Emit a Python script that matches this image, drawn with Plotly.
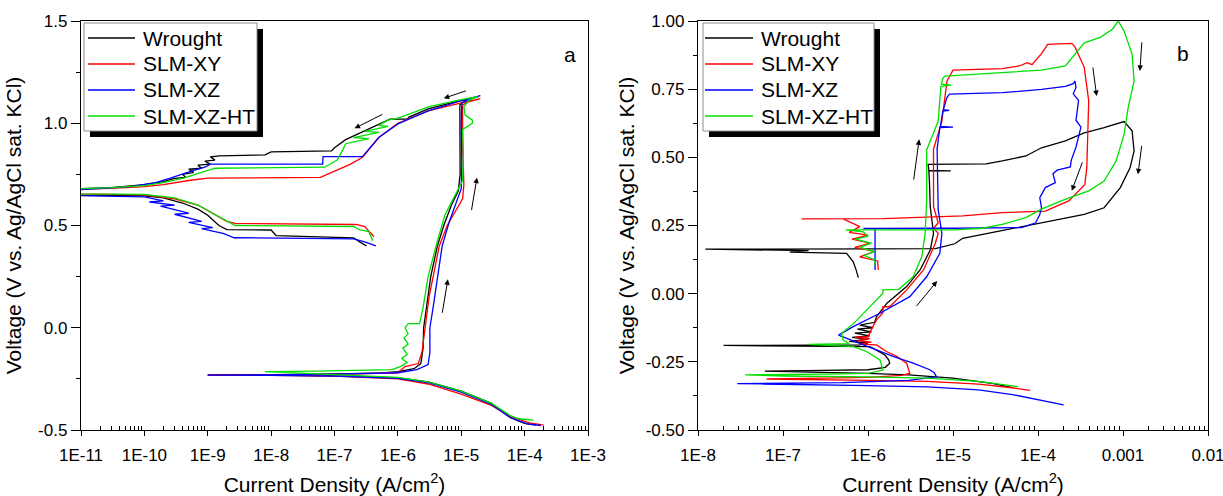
import math
import plotly.graph_objects as go

# ---------------- tick labels ----------------
a_xtick_vals = [1e-11, 1e-10, 1e-9, 1e-8, 1e-7, 1e-6, 1e-5, 1e-4, 1e-3]
a_xtick_text = ["1E-11", "1E-10", "1E-9", "1E-8", "1E-7", "1E-6", "1E-5", "1E-4", "1E-3"]
a_ytick_vals = [-0.5, 0.0, 0.5, 1.0, 1.5]
a_ytick_text = ["-0.5", "0.0", "0.5", "1.0", "1.5"]
b_xtick_vals = [1e-8, 1e-7, 1e-6, 1e-5, 1e-4, 1e-3, 1e-2]
b_xtick_text = ["1E-8", "1E-7", "1E-6", "1E-5", "1E-4", "0.001", "0.01"]
b_ytick_vals = [-0.5, -0.25, 0.0, 0.25, 0.5, 0.75, 1.0]
b_ytick_text = ["-0.50", "-0.25", "0.00", "0.25", "0.50", "0.75", "1.00"]

series_names = ["Wrought", "SLM-XY", "SLM-XZ", "SLM-XZ-HT"]
series_colors = ["#000000", "#FF0000", "#0000FF", "#00E000"]

# ---------------- panel a : (current density A/cm2, voltage V) ----------------
a_wrought = [
    (1.5e-4, -0.476), (1.0e-4, -0.468), (6e-5, -0.44), (3e-5, -0.37), (1e-5, -0.31), (3e-6, -0.265),
    (1e-6, -0.245), (1e-7, -0.235), (1e-8, -0.232), (1e-9, -0.231),
    (1e-8, -0.229), (1e-7, -0.226), (5e-7, -0.222), (1e-6, -0.215), (1.8e-6, -0.200), (2.3e-6, -0.175),
    (2.5e-6, -0.10), (2.55e-6, 0.0), (2.9e-6, 0.12), (3.3e-6, 0.25), (4.2e-6, 0.40), (5.3e-6, 0.50),
    (7e-6, 0.60), (9e-6, 0.67), (9.6e-6, 0.75), (9.4e-6, 0.95), (9.5e-6, 1.09), (1.2e-5, 1.115), (1.85e-5, 1.13),
    (8e-6, 1.105), (3e-6, 1.07), (1.5e-6, 1.03), (1.4e-6, 1.02), (7.5e-7, 1.02), (4e-7, 0.98), (2.5e-7, 0.95),
    (1.5e-7, 0.92), (1e-7, 0.88), (9e-8, 0.865), (1e-8, 0.86), (8e-9, 0.845), (1.5e-9, 0.84),
    (1.1e-9, 0.835), (1.3e-9, 0.82), (9e-10, 0.815), (1.1e-9, 0.80), (7e-10, 0.795), (8e-10, 0.78),
    (5e-10, 0.775), (6e-10, 0.76), (4e-10, 0.75), (4.5e-10, 0.735), (3e-10, 0.73), (2e-10, 0.715),
    (1e-10, 0.70), (3e-11, 0.685), (1e-11, 0.68), (3e-12, 0.663),
    (1e-11, 0.648), (1e-10, 0.645), (2e-10, 0.635), (4e-10, 0.61), (7e-10, 0.58), (1e-9, 0.55),
    (1.5e-9, 0.50), (2e-9, 0.48), (1e-8, 0.478), (1.2e-8, 0.45), (2e-7, 0.44), (2.5e-7, 0.42), (3.2e-7, 0.40),
]
a_xy = [
    (2e-4, -0.476), (1.2e-4, -0.465), (6e-5, -0.435), (3e-5, -0.38), (1e-5, -0.325), (3e-6, -0.275),
    (1e-6, -0.25), (1e-7, -0.237), (1e-8, -0.233), (1e-9, -0.232),
    (1e-8, -0.230), (1e-7, -0.228), (1e-6, -0.22), (1.3e-6, -0.19), (1.6e-6, -0.185), (2.1e-6, -0.175),
    (2.4e-6, -0.12), (2.7e-6, 0.0), (3.1e-6, 0.15), (3.6e-6, 0.25), (4.5e-6, 0.40), (6e-6, 0.50),
    (8e-6, 0.57), (1.05e-5, 0.63), (1.1e-5, 0.70), (1.05e-5, 0.90), (1.05e-5, 1.09), (1.3e-5, 1.105), (2e-5, 1.12),
    (1e-5, 1.10), (3e-6, 1.06), (1e-6, 1.0), (5e-7, 0.93), (2.8e-7, 0.835), (1.8e-7, 0.80), (1.1e-7, 0.77),
    (6e-8, 0.735), (1e-9, 0.732), (5e-10, 0.72), (2e-10, 0.70), (1e-10, 0.69), (3e-11, 0.682), (1e-11, 0.678),
    (3e-12, 0.665),
    (1e-11, 0.655), (1e-10, 0.65), (3e-10, 0.63), (7e-10, 0.60), (1.2e-9, 0.56), (2e-9, 0.52), (2.7e-9, 0.51),
    (2.2e-7, 0.505), (3e-7, 0.495), (3.5e-7, 0.47), (4.2e-7, 0.445),
]
a_xz = [
    (1.8e-4, -0.478), (1.1e-4, -0.47), (6e-5, -0.44), (3e-5, -0.375), (1e-5, -0.315), (3e-6, -0.268),
    (1e-6, -0.247), (1e-7, -0.236), (1e-8, -0.233), (1e-9, -0.232),
    (1e-8, -0.230), (1e-7, -0.227), (1e-6, -0.22), (2e-6, -0.205), (3e-6, -0.18), (3.2e-6, -0.12),
    (3.2e-6, 0.0), (3.6e-6, 0.10), (4.3e-6, 0.25), (5e-6, 0.40), (6.5e-6, 0.52), (8e-6, 0.60), (1e-5, 0.68),
    (1.02e-5, 0.80), (1e-5, 1.0), (1.02e-5, 1.10), (1.4e-5, 1.12), (2e-5, 1.135),
    (1e-5, 1.11), (3e-6, 1.06), (1e-6, 0.997), (5e-7, 0.93), (2.76e-7, 0.837), (6.6e-8, 0.837), (6.5e-8, 0.80),
    (1.1e-9, 0.80), (9e-10, 0.785), (6e-10, 0.77), (4e-10, 0.75), (2.5e-10, 0.73), (1.5e-10, 0.71),
    (6e-11, 0.69), (1e-11, 0.676), (3e-12, 0.66),
    (1e-11, 0.646), (1e-10, 0.64), (2e-10, 0.62), (1.2e-10, 0.615), (3e-10, 0.60), (1.8e-10, 0.595),
    (5e-10, 0.56), (3e-10, 0.555), (8e-10, 0.52), (5e-10, 0.515), (1.2e-9, 0.49), (8e-10, 0.485),
    (1.8e-9, 0.46), (2.6e-9, 0.44), (2e-7, 0.435), (3e-7, 0.42), (4.5e-7, 0.40),
]
a_ht = [
    (1.38e-4, -0.452), (8e-5, -0.445), (6e-5, -0.43), (3e-5, -0.37), (1e-5, -0.31), (3e-6, -0.265),
    (1e-6, -0.243), (1e-7, -0.228), (8e-9, -0.215),
    (5e-8, -0.212), (3.6e-7, -0.208), (8e-7, -0.205), (1.1e-6, -0.19), (1.4e-6, -0.17), (1.15e-6, -0.15),
    (1.4e-6, -0.13), (1.2e-6, -0.10), (1.45e-6, -0.08), (1.25e-6, -0.05), (1.45e-6, -0.03), (1.3e-6, 0.0),
    (1.45e-6, 0.02), (2.2e-6, 0.02), (2.5e-6, 0.10), (3e-6, 0.25), (4e-6, 0.40), (5.5e-6, 0.55), (8e-6, 0.65),
    (1.05e-5, 0.72), (1.08e-5, 0.85), (1.05e-5, 0.97), (1.5e-5, 1.00), (1.5e-5, 1.015), (1.15e-5, 1.04),
    (1.1e-5, 1.08), (1.3e-5, 1.11), (1.8e-5, 1.13),
    (1e-5, 1.115), (3e-6, 1.08), (1.5e-6, 1.045), (1e-6, 1.025), (7e-7, 1.015), (5e-7, 0.99), (7e-7, 0.985),
    (3e-7, 0.96), (5e-7, 0.955), (2e-7, 0.93), (3.5e-7, 0.925), (1.5e-7, 0.90), (1.3e-7, 0.86), (1.1e-7, 0.82),
    (7e-8, 0.785), (1.3e-9, 0.78), (8e-10, 0.76), (4e-10, 0.73), (2e-10, 0.71), (1e-10, 0.695), (3e-11, 0.685),
    (1e-11, 0.68), (3e-12, 0.665),
    (1e-11, 0.655), (1e-10, 0.652), (3e-10, 0.635), (7e-10, 0.60), (1.2e-9, 0.56), (2e-9, 0.525), (2.7e-9, 0.50),
    (2e-7, 0.495), (2.5e-7, 0.478), (3.5e-7, 0.47), (3.8e-7, 0.44), (4e-7, 0.425),
]

# ---------------- panel b ----------------
b_wrought = [
    (5e-5, -0.345), (3e-5, -0.33), (1e-5, -0.31), (3e-6, -0.298), (1e-6, -0.292), (2e-7, -0.288), (6.1e-8, -0.284),
    (3e-7, -0.281), (1e-6, -0.279), (1.6e-6, -0.27), (1.8e-6, -0.255), (1.75e-6, -0.243), (1.58e-6, -0.225),
    (1.26e-6, -0.207), (1.05e-6, -0.194), (2e-8, -0.19), (8e-7, -0.188),
    (1e-6, -0.18), (6e-7, -0.175), (1e-6, -0.168), (6.5e-7, -0.16), (1.05e-6, -0.155), (7e-7, -0.145),
    (1.1e-6, -0.14), (7.5e-7, -0.13), (1.15e-6, -0.125), (8e-7, -0.115), (1.2e-6, -0.105),
    (1.26e-6, -0.084), (1.67e-6, -0.035), (2.85e-6, 0.026), (4.1e-6, 0.087), (5.4e-6, 0.16), (5.9e-6, 0.221),
    (5.4e-6, 0.319), (5.3e-6, 0.40), (5.2e-6, 0.45), (9.4e-6, 0.45), (5.2e-6, 0.452), (5.1e-6, 0.474),
    (2.45e-5, 0.476), (3.8e-5, 0.487), (7.2e-5, 0.505), (1.1e-4, 0.535), (2.1e-4, 0.56), (3.5e-4, 0.59),
    (6e-4, 0.609), (1.03e-3, 0.631),
    (1.28e-3, 0.597), (1.35e-3, 0.523), (1.21e-3, 0.462), (9.3e-4, 0.389), (6e-4, 0.315), (3.5e-4, 0.291),
    (1.1e-4, 0.26), (3.8e-5, 0.23), (1.8e-5, 0.211), (1.3e-5, 0.203), (1.05e-5, 0.183), (6.2e-6, 0.165),
    (1e-6, 0.164), (1.22e-8, 0.163),
    (2e-7, 0.158), (1.2e-7, 0.152), (5.6e-7, 0.148), (6.7e-7, 0.117), (7.2e-7, 0.09), (7.7e-7, 0.059),
]
b_xy = [
    (8.1e-5, -0.355), (5e-5, -0.345), (2e-5, -0.332), (5e-6, -0.322), (1e-6, -0.318), (2e-7, -0.316), (6.4e-8, -0.313),
    (3e-7, -0.31), (1e-6, -0.307), (2.5e-6, -0.30), (3.1e-6, -0.292), (2.85e-6, -0.255), (2.2e-6, -0.231),
    (1.67e-6, -0.213), (1.26e-6, -0.188),
    (8e-7, -0.185), (1.1e-6, -0.178), (7.5e-7, -0.172), (1.05e-6, -0.165), (7e-7, -0.16), (1e-6, -0.158),
    (1.1e-6, -0.13), (1.26e-6, -0.096), (1.5e-6, -0.07), (1.5e-6, -0.048), (1.8e-6, -0.048),
    (2.85e-6, 0.014), (4.5e-6, 0.087), (6.2e-6, 0.185), (6.7e-6, 0.221), (5.9e-6, 0.24), (6.7e-6, 0.26),
    (5.9e-6, 0.319), (5.9e-6, 0.53), (7.4e-6, 0.633), (8.5e-6, 0.78), (1e-5, 0.82),
    (3.8e-5, 0.825), (6e-5, 0.835), (7.5e-5, 0.847), (8.5e-5, 0.84), (1.1e-4, 0.88), (1.3e-4, 0.914),
    (2.5e-4, 0.918), (2.72e-4, 0.905),
    (3.5e-4, 0.83), (3.95e-4, 0.707), (3.75e-4, 0.462), (3.55e-4, 0.40), (2.3e-4, 0.34), (1.22e-4, 0.303),
    (3.8e-5, 0.297), (1.3e-5, 0.285), (1.5e-6, 0.275), (1.66e-7, 0.274),
    (5.1e-7, 0.274), (8e-7, 0.246), (6e-7, 0.225), (1e-6, 0.215), (6.5e-7, 0.20), (1.06e-6, 0.185), (7e-7, 0.17),
    (1.2e-6, 0.155), (8e-7, 0.135), (1.3e-6, 0.12), (1.32e-6, 0.087),
]
b_xz = [
    (2e-4, -0.408), (1e-4, -0.39), (5e-5, -0.37), (2e-5, -0.353), (5e-6, -0.342), (1e-6, -0.337), (1e-7, -0.334),
    (2.9e-8, -0.330),
    (5e-7, -0.326), (3e-6, -0.318), (6.4e-6, -0.305), (6e-6, -0.29), (5.4e-6, -0.28), (3.4e-6, -0.255),
    (2e-6, -0.231), (9.7e-7, -0.194), (6.2e-7, -0.17), (4.5e-7, -0.152), (6.7e-7, -0.121), (1.38e-6, -0.072),
    (3.1e-6, -0.011), (4.9e-6, 0.062), (7e-6, 0.148), (7.4e-6, 0.221), (6.7e-6, 0.307), (6.5e-6, 0.53),
    (7e-6, 0.609), (1e-5, 0.611), (7.1e-6, 0.613), (7.6e-6, 0.67), (9e-6, 0.672), (7.7e-6, 0.675),
    (8.5e-6, 0.72), (9.1e-6, 0.732),
    (3.8e-5, 0.737), (1.1e-4, 0.749), (2.1e-4, 0.76), (2.6e-4, 0.77), (2.72e-4, 0.78),
    (2.8e-4, 0.756), (2.6e-4, 0.733), (3e-4, 0.709), (2.8e-4, 0.636), (3.2e-4, 0.611), (2.8e-4, 0.538),
    (2.46e-4, 0.489), (2.4e-4, 0.465), (1.68e-4, 0.453), (1.5e-4, 0.44), (1.6e-4, 0.407), (1.22e-4, 0.389),
    (1.05e-4, 0.352), (1.1e-4, 0.315), (1.05e-4, 0.29), (9.4e-5, 0.26), (6.4e-5, 0.242), (1e-5, 0.24),
    (8.8e-7, 0.239),
    (1.21e-6, 0.238), (1.21e-6, 0.087),
]
b_ht = [
    (5.8e-5, -0.341), (2e-5, -0.322), (5e-6, -0.31), (1e-6, -0.305), (1e-7, -0.302), (3.6e-8, -0.298),
    (3e-7, -0.295), (1e-6, -0.292), (1.5e-6, -0.28), (1.38e-6, -0.243), (9.7e-7, -0.213), (6.8e-7, -0.194),
    (2e-7, -0.186), (6e-7, -0.183), (5.1e-7, -0.17), (4.9e-7, -0.145), (6.8e-7, -0.109), (9.7e-7, -0.06),
    (1.5e-6, 0.0015), (1.5e-6, 0.014), (2.3e-6, 0.016), (3.4e-6, 0.062), (4.3e-6, 0.136), (4.7e-6, 0.221),
    (4.9e-6, 0.344), (4.9e-6, 0.527), (6.7e-6, 0.633), (7.2e-6, 0.76), (9.5e-6, 0.765), (7.3e-6, 0.768),
    (7.6e-6, 0.79), (8e-6, 0.798),
    (3.8e-5, 0.81), (1.1e-4, 0.82), (2.1e-4, 0.835), (2.6e-4, 0.87), (3.5e-4, 0.92), (5.4e-4, 0.94),
    (7.5e-4, 0.97), (8.8e-4, 1.0),
    (1.03e-3, 0.963), (1.28e-3, 0.878), (1.35e-3, 0.78), (1.15e-3, 0.682), (1.03e-3, 0.584), (8.3e-4, 0.487),
    (6e-4, 0.413), (3.95e-4, 0.377), (1.87e-4, 0.34), (1.1e-4, 0.31), (7.2e-5, 0.279), (3.8e-5, 0.254),
    (2.2e-5, 0.24), (1e-5, 0.234), (5.5e-7, 0.234),
    (8.8e-7, 0.227), (1e-6, 0.21), (7e-7, 0.20), (1.1e-6, 0.185), (8e-7, 0.17), (1.2e-6, 0.155), (9e-7, 0.14),
    (1.21e-6, 0.124), (1.2e-6, 0.105),
]

# scan-direction arrows: (tail current, tail V, head current, head V)
a_arrows = [(6.0e-7, 1.047, 2.07e-7, 0.975), (1.25e-5, 1.161, 5.3e-6, 1.122),
            (1.44e-5, 0.568, 1.77e-5, 0.734), (4.98e-6, 0.066, 6.15e-6, 0.237)]
b_arrows = [(3.43e-6, 0.413, 4.0e-6, 0.566), (3.6e-6, -0.051, 6.5e-6, 0.046),
            (4.4e-4, 0.835, 4.9e-4, 0.725), (3.37e-4, 0.487, 2.5e-4, 0.377),
            (1.67e-3, 0.927, 1.58e-3, 0.817), (1.67e-3, 0.548, 1.5e-3, 0.438)]

# ---------------- figure ----------------
W, H = 1223, 496
ML, MR, MT, MB = 81, 15, 21, 66
PW, PH = W - ML - MR, H - MT - MB
FONT = "Arial, Liberation Sans, sans-serif"


def px(x):
    return (x - ML) / PW


def py(y):
    return (H - MB - y) / PH


fig = go.Figure()
panels = [("x", "y", [a_wrought, a_xy, a_xz, a_ht]), ("x2", "y2", [b_wrought, b_xy, b_xz, b_ht])]
for xa, ya, sets in panels:
    for name, color, pts in zip(series_names, series_colors, sets):
        fig.add_trace(go.Scatter(
            x=[p[0] for p in pts], y=[p[1] for p in pts], mode="lines", name=name,
            line=dict(color=color, width=1.3), xaxis=xa, yaxis=ya, showlegend=False))


def log_minor(lo, hi):
    return [m * 10.0 ** k for k in range(lo, hi) for m in range(2, 10)]


axis_common = dict(showline=True, linecolor="black", linewidth=1.4, mirror=True, showgrid=False,
                   zeroline=False, tickcolor="black", tickwidth=1.2, automargin=False,
                   ticklabeloverflow="allow",
                   tickfont=dict(family=FONT, size=17, color="black"))

title_font = dict(family=FONT, size=21, color="black")
xtitle = "Current Density (A/cm<sup>2</sup>)"
ytitle = "Voltage (V vs. Ag/AgCl sat. KCl)"

fig.update_layout(
    width=W, height=H, margin=dict(l=ML, r=MR, t=MT, b=MB),
    paper_bgcolor="white", plot_bgcolor="white", font=dict(family=FONT, color="black"),
    xaxis=dict(type="log", range=[-11, -3], domain=[0, px(588)], anchor="y",
               tickmode="array", tickvals=a_xtick_vals, ticktext=a_xtick_text,
               ticks="outside", ticklen=5, ticklabelstandoff=4,
               minor=dict(tickmode="array", tickvals=log_minor(-11, -3), ticks="inside", ticklen=4,
                          tickcolor="black", tickwidth=1),
               title=dict(text=xtitle, font=title_font, standoff=14), **axis_common),
    yaxis=dict(range=[-0.5, 1.5], domain=[0, 1], anchor="x",
               tickmode="array", tickvals=a_ytick_vals, ticktext=a_ytick_text,
               ticks="outside", ticklen=9,
               minor=dict(dtick=0.25, ticks="outside", ticklen=4, tickcolor="black", tickwidth=1),
               title=dict(text=ytitle, font=title_font, standoff=10), **axis_common),
    xaxis2=dict(type="log", range=[-8, -2], domain=[px(698), 1], anchor="y2",
                tickmode="array", tickvals=b_xtick_vals, ticktext=b_xtick_text,
                ticks="outside", ticklen=5, ticklabelstandoff=4,
                minor=dict(tickmode="array", tickvals=log_minor(-8, -2), ticks="inside", ticklen=4,
                           tickcolor="black", tickwidth=1),
                title=dict(text=xtitle, font=title_font, standoff=14), **axis_common),
    yaxis2=dict(range=[-0.5, 1.0], domain=[0, 1], anchor="x2",
                tickmode="array", tickvals=b_ytick_vals, ticktext=b_ytick_text,
                ticks="outside", ticklen=9,
                minor=dict(dtick=0.125, ticks="outside", ticklen=4, tickcolor="black", tickwidth=1),
                title=dict(text=ytitle, font=title_font, standoff=5), **axis_common),
)

shapes = []
annotations = []

# legends (boxed with drop shadow)
legend_specs = [
    dict(box=(84, 23, 257, 131), line_x=(88, 135), text_x=141),
    dict(box=(703, 23, 874, 131), line_x=(705, 753), text_x=759),
]
row_y = [38, 64, 90, 116]
for spec in legend_specs:
    x0, y0, x1, y1 = spec["box"]
    shapes.append(dict(type="rect", xref="paper", yref="paper", x0=px(x0 + 6), x1=px(x1 + 6),
                       y0=py(y1 + 6), y1=py(y0 + 6), fillcolor="black", line=dict(width=0), layer="above"))
    shapes.append(dict(type="rect", xref="paper", yref="paper", x0=px(x0), x1=px(x1), y0=py(y1), y1=py(y0),
                       fillcolor="white", line=dict(color="#8c8c8c", width=1), layer="above"))
    for name, color, ry in zip(series_names, series_colors, row_y):
        shapes.append(dict(type="line", xref="paper", yref="paper", x0=px(spec["line_x"][0]),
                           x1=px(spec["line_x"][1]), y0=py(ry), y1=py(ry),
                           line=dict(color=color, width=1.3), layer="above"))
        annotations.append(dict(xref="paper", yref="paper", x=px(spec["text_x"]), y=py(ry), text=name,
                                showarrow=False, xanchor="left", yanchor="middle",
                                font=dict(family=FONT, size=21, color="black")))

# panel letters
annotations.append(dict(xref="paper", yref="paper", x=px(570), y=py(41), text="a", showarrow=False,
                        font=dict(family=FONT, size=21, color="black")))
annotations.append(dict(xref="paper", yref="paper", x=px(1191), y=py(40), text="b", showarrow=False,
                        font=dict(family=FONT, size=21, color="black")))

# scan direction arrows
for xa, ya, arrows in [("x", "y", a_arrows), ("x2", "y2", b_arrows)]:
    for ti, tv, hi, hv in arrows:
        annotations.append(dict(xref=xa, yref=ya, axref=xa, ayref=ya, x=math.log10(hi), y=hv,
                                ax=math.log10(ti), ay=tv, text="", showarrow=True, arrowhead=2,
                                arrowsize=1.1, arrowwidth=1, arrowcolor="black"))

fig.update_layout(shapes=shapes, annotations=annotations)
fig.write_html("out.html", config={"displayModeBar": False},
               post_script="document.body.style.margin='0';document.body.style.overflow='hidden';")
